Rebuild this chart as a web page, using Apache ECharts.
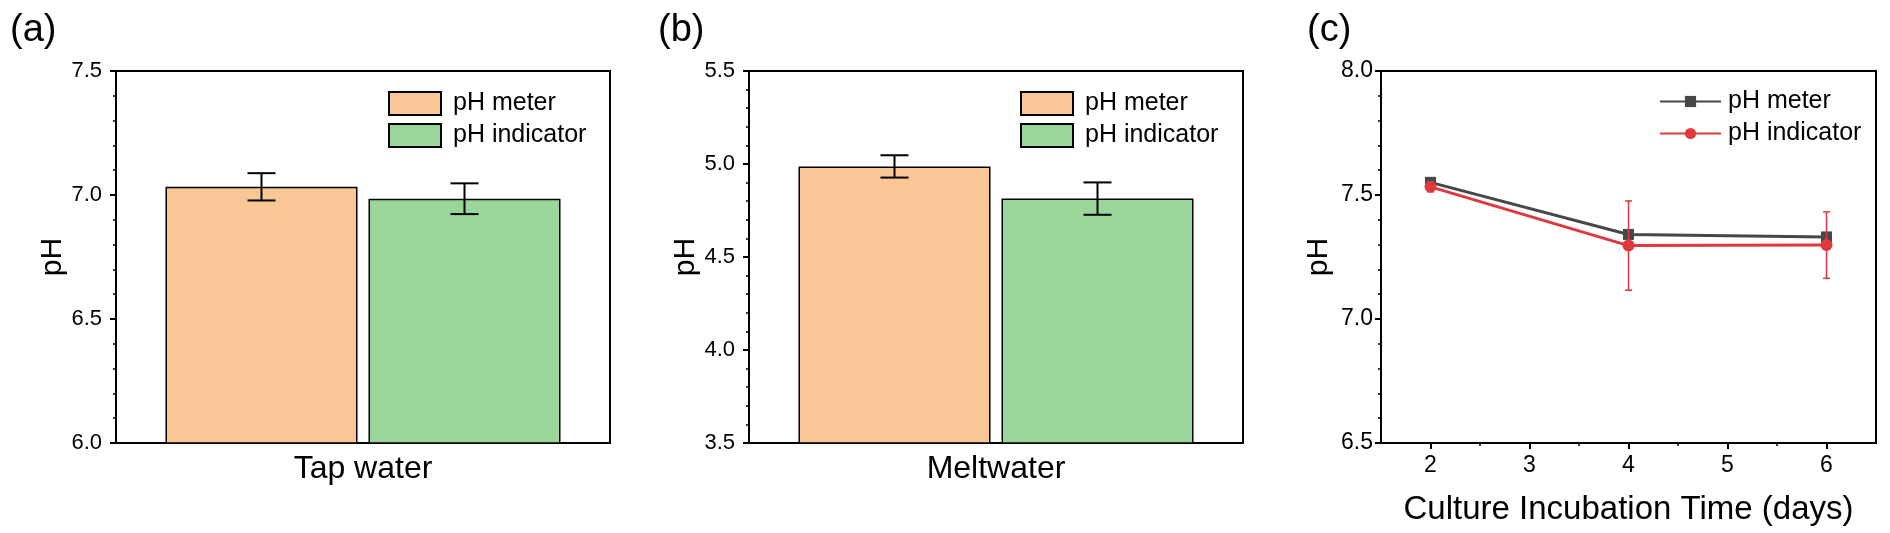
<!DOCTYPE html>
<html>
<head>
<meta charset="utf-8">
<script src="https://cdn.jsdelivr.net/npm/echarts@6/dist/echarts.min.js"></script>
<style>
  html, body { margin: 0; padding: 0; background: #fff; }
  #chart { width: 1890px; height: 533px; }
</style>
</head>
<body>
<div id="chart"></div>
<script>
// ---------- data ----------
const seriesNames = ['pH meter', 'pH indicator'];

// panel (a)
const categoriesA = ['Tap water'];
const tapMeter = [7.033];
const tapMeterErr = [0.055];
const tapIndicator = [6.985];
const tapIndicatorErr = [0.062];

// panel (b)
const categoriesB = ['Meltwater'];
const meltMeter = [4.987];
const meltMeterErr = [0.06];
const meltIndicator = [4.814];
const meltIndicatorErr = [0.087];

// panel (c)
const days = [2, 4, 6];
const meterC = [7.551, 7.341, 7.331];
const meterCErr = [0.015, 0.01, 0.01];
const indicatorC = [7.533, 7.296, 7.298];
const indicatorCErr = [0.02, 0.18, 0.134];
const xTicksC = [2, 3, 4, 5, 6];
const xMinorTicksC = [2.5, 3.5, 4.5, 5.5];

// axis ranges
const yRangeA = { min: 6.0, max: 7.5, interval: 0.5 };
const yRangeB = { min: 3.5, max: 5.5, interval: 0.5 };
const yRangeC = { min: 6.5, max: 8.0, interval: 0.5 };
const xRangeC = { min: 1.5, max: 6.5, interval: 0.5 };

// ---------- styles ----------
const FONT = "'Liberation Sans', Arial, sans-serif";
const ORANGE = '#F9C795';
const GREEN = '#9AD699';
const GRAY = '#474747';
const RED = '#E0393D';
const BAR_W = 192;
const BAR_GAP_PX = 11;

const chart = echarts.init(document.getElementById('chart'), null, { renderer: 'canvas' });

function gridBox(left, right) {
  return { left: left, right: right, top: 71, bottom: 90, show: true,
           borderColor: '#000', borderWidth: 2, backgroundColor: 'transparent', containLabel: false };
}

function valueYAxis(gridIndex, range, margin, labelSize) {
  return {
    gridIndex: gridIndex, type: 'value', min: range.min, max: range.max, interval: range.interval,
    name: 'pH', nameLocation: 'middle', nameGap: 47,
    nameTextStyle: { fontSize: 30, color: '#000', fontFamily: FONT },
    axisLine: { show: true, lineStyle: { color: '#000', width: 2 } },
    axisTick: { show: true, length: 6, lineStyle: { color: '#000', width: 2 } },
    minorTick: { show: true, splitNumber: 5, length: 3, lineStyle: { color: '#000', width: 1.5 } },
    axisLabel: { fontSize: labelSize, color: '#000', fontFamily: FONT, margin: margin,
                 formatter: v => v.toFixed(1) },
    splitLine: { show: false }, minorSplitLine: { show: false }
  };
}

function catXAxis(gridIndex, cats) {
  return {
    gridIndex: gridIndex, type: 'category', data: cats,
    axisLine: { show: true, lineStyle: { color: '#000', width: 2 } },
    axisTick: { show: false },
    axisLabel: { fontSize: 32, color: '#000', fontFamily: FONT, margin: 10 },
    splitLine: { show: false }
  };
}

function barSeries(name, axisIdx, values, color) {
  return {
    name: name, type: 'bar', xAxisIndex: axisIdx, yAxisIndex: axisIdx,
    data: values, barWidth: BAR_W, barGap: (BAR_GAP_PX / BAR_W * 100).toFixed(2) + '%',
    itemStyle: { color: color, borderColor: '#000', borderWidth: 1.5 },
    z: 2, animation: false
  };
}

// error bars for grouped bars, placed using the axis' coordinate system
function barErrorSeries(axisIdx, values, errs, side) {
  return {
    type: 'custom', xAxisIndex: axisIdx, yAxisIndex: axisIdx, z: 5, silent: true,
    data: values.map((v, i) => [i, v, errs[i]]),
    renderItem: function (params, api) {
      const c = api.value(0), v = api.value(1), e = api.value(2);
      const center = api.coord([c, v]);
      const x = center[0] + side * (BAR_W + BAR_GAP_PX) / 2;
      const yt = api.coord([c, v + e])[1];
      const yb = api.coord([c, v - e])[1];
      const cap = 14;
      const st = { stroke: '#000', lineWidth: 2 };
      return { type: 'group', children: [
        { type: 'line', shape: { x1: x, y1: yt, x2: x, y2: yb }, style: st },
        { type: 'line', shape: { x1: x - cap, y1: yt, x2: x + cap, y2: yt }, style: st },
        { type: 'line', shape: { x1: x - cap, y1: yb, x2: x + cap, y2: yb }, style: st }
      ]};
    },
    animation: false
  };
}

function lineErrorSeries(xs, values, errs, color, z) {
  return {
    type: 'custom', xAxisIndex: 2, yAxisIndex: 2, z: z, silent: true,
    data: xs.map((d, i) => [d, values[i], errs[i]]),
    renderItem: function (params, api) {
      const d = api.value(0), v = api.value(1), e = api.value(2);
      const x = api.coord([d, v])[0];
      const yt = api.coord([d, v + e])[1];
      const yb = api.coord([d, v - e])[1];
      const cap = 3.5;
      const st = { stroke: color, lineWidth: 1.5 };
      return { type: 'group', children: [
        { type: 'line', shape: { x1: x, y1: yt, x2: x, y2: yb }, style: st },
        { type: 'line', shape: { x1: x - cap, y1: yt, x2: x + cap, y2: yt }, style: st },
        { type: 'line', shape: { x1: x - cap, y1: yb, x2: x + cap, y2: yb }, style: st }
      ]};
    },
    animation: false
  };
}

function barLegend(left) {
  return {
    left: left, top: 86, orient: 'vertical', icon: 'rect',
    itemWidth: 52, itemHeight: 23, itemGap: 7,
    data: seriesNames.slice(),
    textStyle: { fontSize: 25, color: '#000', fontFamily: FONT, padding: [0, 0, 0, 7] },
    selectedMode: false
  };
}

const option = {
  backgroundColor: '#fff',
  animation: false,
  textStyle: { fontFamily: FONT },
  grid: [
    gridBox(116, 1280),
    gridBox(749, 647),
    gridBox(1381, 14)
  ],
  xAxis: [
    catXAxis(0, categoriesA),
    catXAxis(1, categoriesB),
    {
      gridIndex: 2, type: 'value', position: 'bottom',
      min: xRangeC.min, max: xRangeC.max, interval: xRangeC.interval,
      name: 'Culture Incubation Time (days)', nameLocation: 'middle', nameGap: 50,
      nameTextStyle: { fontSize: 33, color: '#000', fontFamily: FONT },
      axisLine: { show: true, lineStyle: { color: '#000', width: 2 } },
      axisTick: { show: true, length: 6, customValues: xTicksC, lineStyle: { color: '#000', width: 2 } },
      axisLabel: { fontSize: 23, color: '#000', fontFamily: FONT, margin: 11, customValues: xTicksC,
                   formatter: v => String(v) },
      splitLine: { show: false }
    },
    {
      gridIndex: 2, type: 'value', position: 'bottom',
      min: xRangeC.min, max: xRangeC.max, interval: xRangeC.interval,
      axisLine: { show: false },
      axisTick: { show: true, length: 3, customValues: xMinorTicksC, lineStyle: { color: '#000', width: 1.5 } },
      axisLabel: { show: false },
      splitLine: { show: false }
    }
  ],
  yAxis: [
    valueYAxis(0, yRangeA, 14, 22),
    valueYAxis(1, yRangeB, 14, 22),
    valueYAxis(2, yRangeC, 8, 23)
  ],
  legend: [
    barLegend(383),
    barLegend(1015),
    {
      left: 1654, top: 84, orient: 'vertical',
      itemWidth: 61, itemHeight: 14, itemGap: 7,
      data: seriesNames.map(n => n + ' (c)'),
      formatter: n => n.replace(' (c)', ''),
      textStyle: { fontSize: 25, color: '#000', fontFamily: FONT, padding: [0, 0, 0, 2] },
      selectedMode: false
    }
  ],
  graphic: [
    { type: 'text', left: 10, top: 12, style: { text: '(a)', fontSize: 38, fill: '#000', fontFamily: FONT } },
    { type: 'text', left: 658, top: 12, style: { text: '(b)', fontSize: 38, fill: '#000', fontFamily: FONT } },
    { type: 'text', left: 1307, top: 12, style: { text: '(c)', fontSize: 38, fill: '#000', fontFamily: FONT } }
  ],
  series: [
    barSeries(seriesNames[0], 0, tapMeter, ORANGE),
    barSeries(seriesNames[1], 0, tapIndicator, GREEN),
    barErrorSeries(0, tapMeter, tapMeterErr, -1),
    barErrorSeries(0, tapIndicator, tapIndicatorErr, 1),

    barSeries(seriesNames[0], 1, meltMeter, ORANGE),
    barSeries(seriesNames[1], 1, meltIndicator, GREEN),
    barErrorSeries(1, meltMeter, meltMeterErr, -1),
    barErrorSeries(1, meltIndicator, meltIndicatorErr, 1),

    lineErrorSeries(days, meterC, meterCErr, GRAY, 3),
    lineErrorSeries(days, indicatorC, indicatorCErr, RED, 5),
    {
      name: seriesNames[0] + ' (c)', type: 'line', xAxisIndex: 2, yAxisIndex: 2,
      data: days.map((d, i) => [d, meterC[i]]),
      symbol: 'rect', symbolSize: 11,
      lineStyle: { color: GRAY, width: 3 },
      itemStyle: { color: GRAY },
      z: 4, animation: false
    },
    {
      name: seriesNames[1] + ' (c)', type: 'line', xAxisIndex: 2, yAxisIndex: 2,
      data: days.map((d, i) => [d, indicatorC[i]]),
      symbol: 'circle', symbolSize: 12,
      lineStyle: { color: RED, width: 3 },
      itemStyle: { color: RED },
      z: 6, animation: false
    }
  ]
};

chart.setOption(option);
</script>
</body>
</html>
